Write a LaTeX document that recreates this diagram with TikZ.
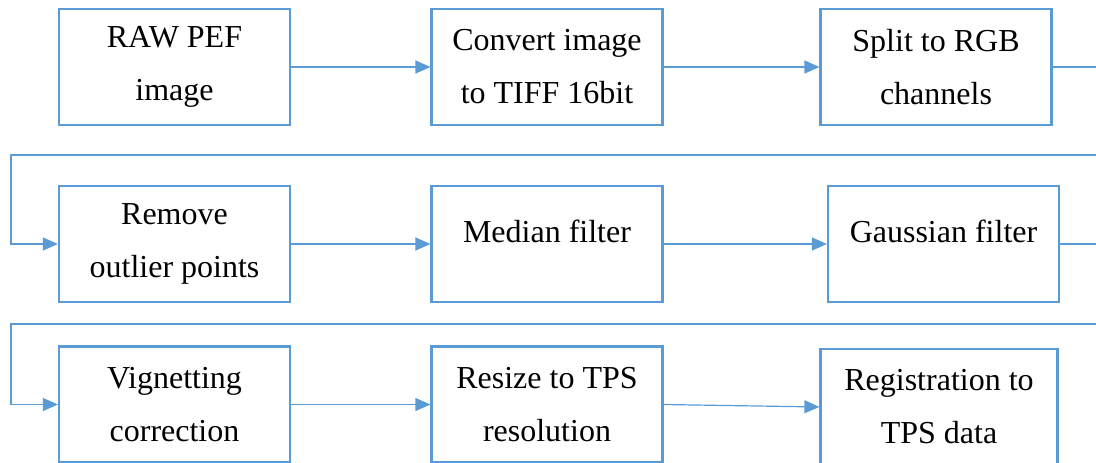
\documentclass[tikz,border=0pt]{standalone}
\usepackage{fontspec}
\setmainfont{Liberation Serif}
\usepackage{xcolor}
\usepackage{tikz}
\usetikzlibrary{arrows.meta}
\definecolor{FlowBlue}{HTML}{5B9BD5}

\begin{document}
\begin{tikzpicture}[x=1pt,y=-1pt,
    every node/.style={font=\fontsize{32}{53}\selectfont},
    stepbox/.style={draw=FlowBlue,line width=2.2pt,minimum width=231pt,
                    minimum height=116pt,align=center,text=black,inner sep=0pt},
    oneline/.style={text height=23pt,text depth=27pt},
    ar/.style={-{Triangle[length=15pt,width=13pt]},FlowBlue,line width=1.2pt}]
  \useasboundingbox (0,0) rectangle (1096,463);
  % row 1
  \node[stepbox] (raw)  at (174.5,67) {RAW PEF\\image};
  \node[stepbox] (tiff) at (547,67)   {Convert image\\to TIFF 16bit};
  \node[stepbox] (rgb)  at (936,67)   {Split to RGB\\channels};
  % row 2
  \node[stepbox] (outl) at (174.5,244) {Remove\\outlier points};
  \node[stepbox,oneline] (med)   at (547,244)   {Median filter};
  \node[stepbox,oneline] (gauss) at (943.5,244) {Gaussian filter};
  % row 3
  \node[stepbox] (vign) at (174.5,404.5) {Vignetting\\correction};
  \node[stepbox] (res)  at (547,404.5)   {Resize to TPS\\resolution};
  \node[stepbox,minimum width=237pt] (reg) at (939,407) {Registration to\\TPS data};
  % turns of the wrap-around lines
  \coordinate (turnA) at (1115,155); \coordinate (backA) at (11,155);
  \coordinate (turnB) at (1115,324); \coordinate (backB) at (11,324);
  \draw[ar] (raw) -- (tiff); \draw[ar] (tiff) -- (rgb);
  \draw[ar] (rgb.east) -| (turnA) -- (backA) |- (outl.west);
  \draw[ar] (outl) -- (med); \draw[ar] (med) -- (gauss);
  \draw[ar] (gauss.east) -| (turnB) -- (backB) |- (vign.west);
  \draw[ar] (vign) -- (res); \draw[ar] (res.east) -- (reg.west);
\end{tikzpicture}
\end{document}
